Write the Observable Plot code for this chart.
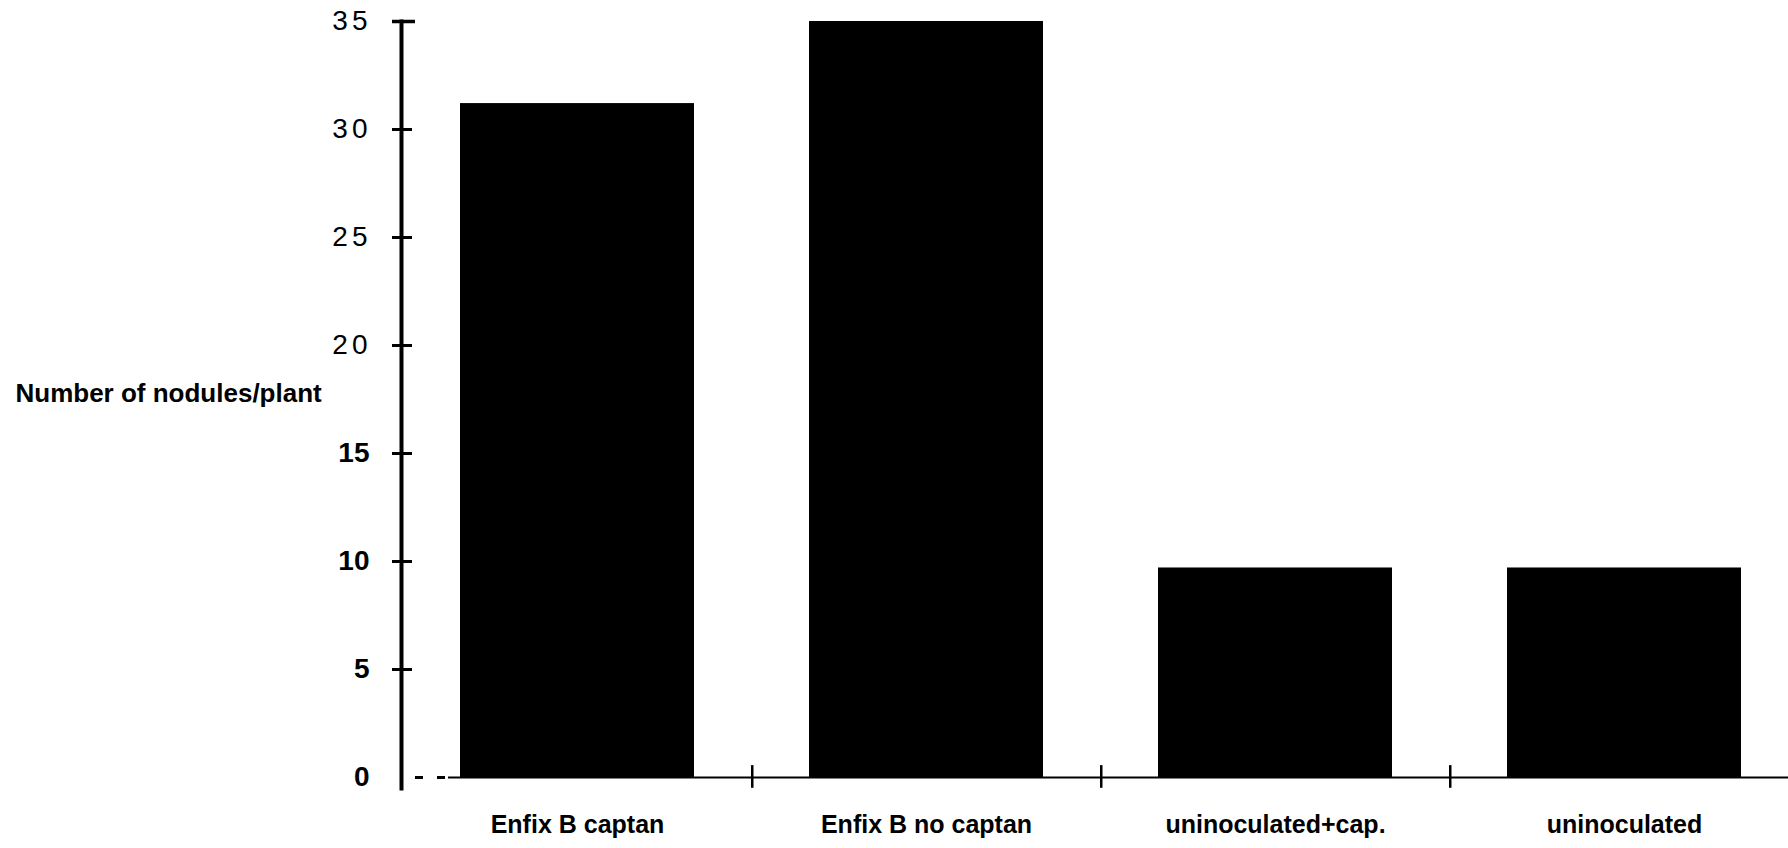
<!DOCTYPE html>
<html>
<head>
<meta charset="utf-8">
<script src="https://cdn.jsdelivr.net/npm/d3@7"></script>
<script src="https://cdn.jsdelivr.net/npm/@observablehq/plot@0.6"></script>
<style>
  html, body { margin: 0; padding: 0; background: #fff; }
  #chart svg { display: block; }
  .ylab-light text { letter-spacing: 4px; font-weight: normal; }
</style>
</head>
<body>
<div id="chart"></div>
<script>
const categories = ["Enfix B captan", "Enfix B no captan", "uninoculated+cap.", "uninoculated"];
const nodules = [31.2, 35.0, 9.7, 9.7];
const yTicks = [0, 5, 10, 15, 20, 25, 30, 35];
const yTicksBold = [0, 5, 10, 15];
const yTicksLight = [20, 25, 30, 35];
const yLabel = "Number of nodules/plant";

const data = categories.map((c, i) => ({category: c, value: nodules[i]}));

const W = 1788, H = 848;
const mLeft = 401, mTop = 21, mBottom = 71;
const xRange = [401, 1799];
const step = (xRange[1] - xRange[0]) / categories.length;

const chart = Plot.plot({
  width: W,
  height: H,
  marginLeft: mLeft,
  marginRight: 0,
  marginTop: mTop,
  marginBottom: mBottom,
  style: {fontFamily: "'Liberation Sans', Arial, sans-serif", background: "white", color: "black"},
  x: {domain: categories, range: xRange, paddingInner: 0.33, paddingOuter: 0.165, axis: null},
  y: {domain: [0, 35], axis: null},
  marks: [
    Plot.barY(data, {x: "category", y: "value", fill: "black"}),
    Plot.ruleY([0], {insetLeft: 47, stroke: "black", strokeWidth: 2}),
    Plot.ruleY([0], {insetLeft: 14, insetRight: W - mLeft - 47, stroke: "black", strokeWidth: 3, strokeDasharray: "8 14"}),
    Plot.frame({anchor: "left", stroke: "black", strokeWidth: 4, insetBottom: -11}),
    Plot.ruleY(yTicks.filter(d => d > 0 && d < 35), {y: d => d, insetLeft: -9, insetRight: W - mLeft - 11, stroke: "black", strokeWidth: 3}),
    Plot.ruleY([35], {y: d => d, insetLeft: -9, insetRight: W - mLeft - 14, stroke: "black", strokeWidth: 3.5}),
    Plot.ruleX(categories.slice(0, 3), {x: d => d, dx: step / 2, y1: -0.5, y2: 0.55, stroke: "black", strokeWidth: 2.5}),
    Plot.text(yTicksBold, {y: d => d, text: d => String(d), frameAnchor: "left", dx: -32, textAnchor: "end", fontSize: 28, fontWeight: "bold", fill: "black"}),
    Plot.text(yTicksLight, {y: d => d, text: d => String(d), frameAnchor: "left", dx: -30, textAnchor: "end", fontSize: 28, fill: "black", className: "ylab-light"}),
    Plot.text([yLabel], {frameAnchor: "left", dx: -386, dy: -6, textAnchor: "start", fontSize: 26, fontWeight: "bold", fill: "black"}),
    Plot.text(categories, {x: d => d, frameAnchor: "bottom", dy: 55, fontSize: 25, fontWeight: "bold", fill: "black"})
  ]
});
document.getElementById("chart").appendChild(chart);
</script>
</body>
</html>
